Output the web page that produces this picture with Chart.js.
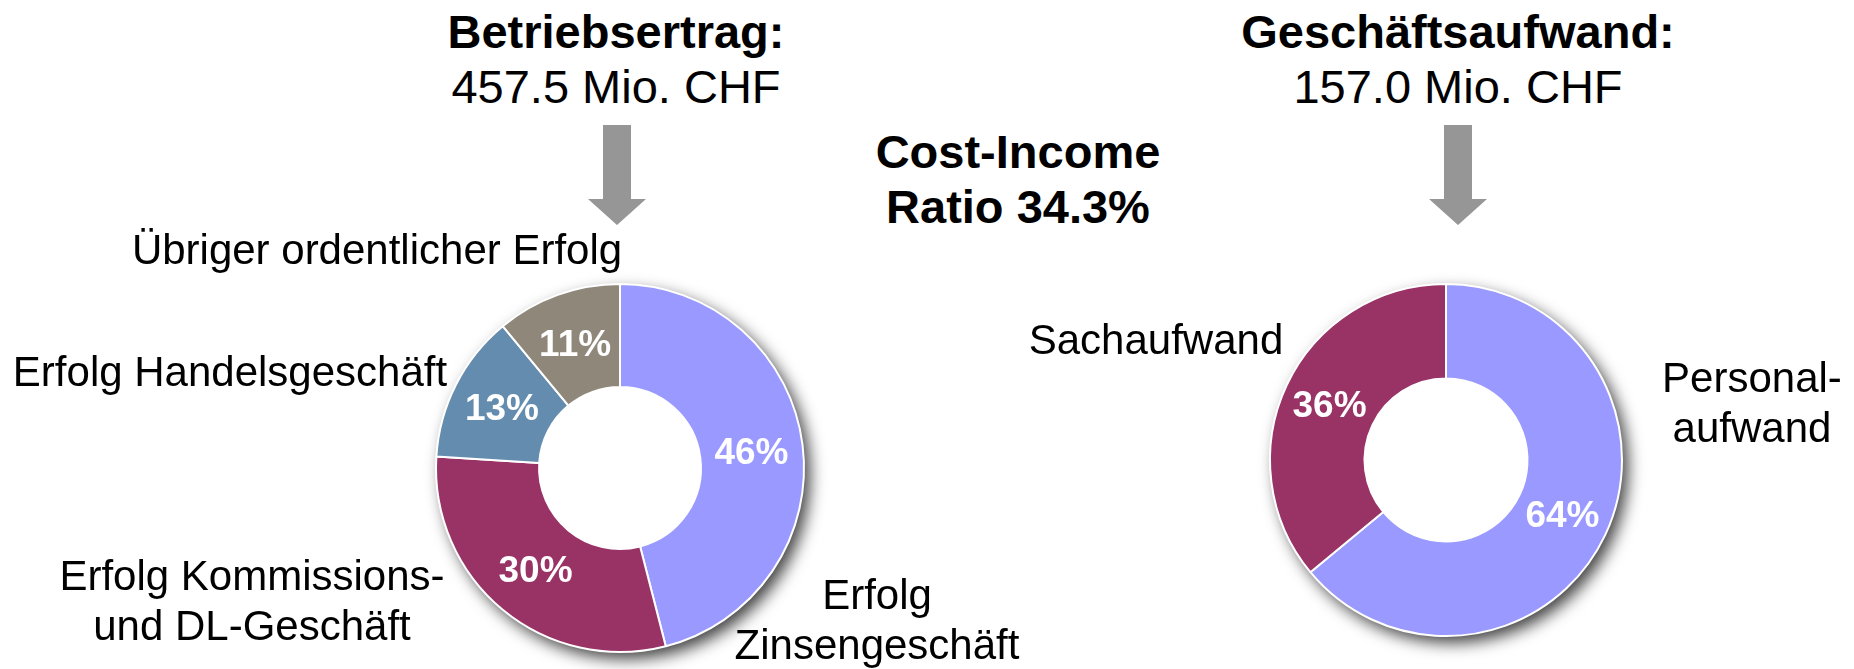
<!DOCTYPE html>
<html>
<head>
<meta charset="utf-8">
<script src="https://cdn.jsdelivr.net/npm/chart.js@4.4.0/dist/chart.umd.min.js"></script>
<style>
  body { margin: 0; background: #fff; }
  #page { position: relative; width: 1854px; height: 669px; overflow: hidden; font-family: "Liberation Sans", Arial, sans-serif; color: #000; }
  .txt { position: absolute; text-align: center; white-space: nowrap; }
  .big { font-size: 47px; line-height: 55px; }
  .bold { font-weight: bold; }
  .lbl { font-size: 42px; line-height: 50px; }
  canvas { position: absolute; }
</style>
</head>
<body>
<div id="page">
  <svg width="1854" height="669" style="position:absolute;left:0;top:0">
    <polygon points="603,125 631,125 631,199 646,199 617,225 588,199 603,199" fill="#969696"/>
    <polygon points="1444,125 1472,125 1472,199 1487,199 1458,225 1429,199 1444,199" fill="#969696"/>
  </svg>
  <canvas id="incomeChart" width="440" height="440" style="left:400px;top:248px"></canvas>
  <canvas id="expenseChart" width="440" height="440" style="left:1226px;top:240px"></canvas>
</div>
<script>
// Betriebsertrag (Anteile in %)
const incomeLabels = [["Erfolg", "Zinsengeschäft"], ["Erfolg Kommissions-", "und DL-Geschäft"], ["Erfolg Handelsgeschäft"], ["Übriger ordentlicher Erfolg"]];
const incomeShares = [46, 30, 13, 11];
const incomeColors = ["#9999FF", "#993366", "#648CAE", "#8F877A"];

// Geschäftsaufwand (Anteile in %)
const expenseLabels = [["Personal-", "aufwand"], ["Sachaufwand"]];
const expenseShares = [64, 36];
const expenseColors = ["#9999FF", "#993366"];

const headings = [
    { lines: ["Betriebsertrag:", "457.5 Mio. CHF"], x: 616, top: 4 },
    { lines: ["Geschäftsaufwand:", "157.0 Mio. CHF"], x: 1458, top: 4 },
];
const ratioLines = ["Cost-Income", "Ratio 34.3%"];

// where the outside labels sit (center x, top of block)
const incomeLabelPos = [[877, 570], [252, 551], [230, 347], [377, 225]];
const expenseLabelPos = [[1752, 353], [1156, 315]];

const page = document.getElementById("page");

function addText(lines, cx, top, cls, boldFirst) {
    const div = document.createElement("div");
    div.className = "txt " + cls;
    div.style.left = (cx - 400) + "px";
    div.style.width = "800px";
    div.style.top = top + "px";
    lines.forEach((t, i) => {
        const line = document.createElement("div");
        line.textContent = t;
        if (boldFirst === "all" || (boldFirst && i === 0)) line.className = "bold";
        div.appendChild(line);
    });
    page.appendChild(div);
}

headings.forEach(h => addText(h.lines, h.x, h.top, "big", true));
addText(ratioLines, 1018, 124, "big", "all");
incomeLabels.forEach((l, i) => addText(l, incomeLabelPos[i][0], incomeLabelPos[i][1], "lbl", false));
expenseLabels.forEach((l, i) => addText(l, expenseLabelPos[i][0], expenseLabelPos[i][1], "lbl", false));

// soft drop shadow under the ring
const shadowPlugin = {
    id: "ringShadow",
    beforeDatasetsDraw(chart) {
        const arc = chart.getDatasetMeta(0).data[0];
        if (!arc) return;
        const ctx = chart.ctx;
        ctx.save();
        ctx.shadowColor = "rgba(0,0,0,0.75)";
        ctx.shadowBlur = 16;
        ctx.shadowOffsetX = 6;
        ctx.shadowOffsetY = 7;
        ctx.fillStyle = "#ffffff";
        ctx.beginPath();
        ctx.arc(arc.x, arc.y, arc.outerRadius, 0, Math.PI * 2);
        ctx.fill();
        ctx.restore();
    }
};

// white percentage inside each slice
const pctPlugin = {
    id: "pctLabels",
    afterDatasetsDraw(chart) {
        const ctx = chart.ctx;
        const values = chart.data.datasets[0].data;
        ctx.save();
        ctx.fillStyle = "#ffffff";
        ctx.font = "bold 37px 'Liberation Sans', Arial, sans-serif";
        ctx.textAlign = "center";
        ctx.textBaseline = "middle";
        chart.getDatasetMeta(0).data.forEach((arc, i) => {
            const p = arc.tooltipPosition();
            ctx.fillText(values[i] + "%", p.x, p.y + 2);
        });
        ctx.restore();
    }
};

function makeDonut(id, labels, data, colors, radius, cutout) {
    const ctx = document.getElementById(id).getContext("2d");
    return new Chart(ctx, {
        type: "doughnut",
        data: {
            labels: labels,
            datasets: [{
                data: data,
                backgroundColor: colors,
                borderColor: "#ffffff",
                borderWidth: 2,
                radius: radius,
            }],
        },
        options: {
            responsive: false,
            animation: false,
            events: [],
            cutout: cutout,
            layout: { padding: 0 },
            plugins: {
                legend: { display: false },
                tooltip: { enabled: false },
            },
        },
        plugins: [shadowPlugin, pctPlugin],
    });
}

makeDonut("incomeChart", incomeLabels, incomeShares, incomeColors, 184, "44%");
makeDonut("expenseChart", expenseLabels, expenseShares, expenseColors, 176, "46.3%");
</script>
</body>
</html>
